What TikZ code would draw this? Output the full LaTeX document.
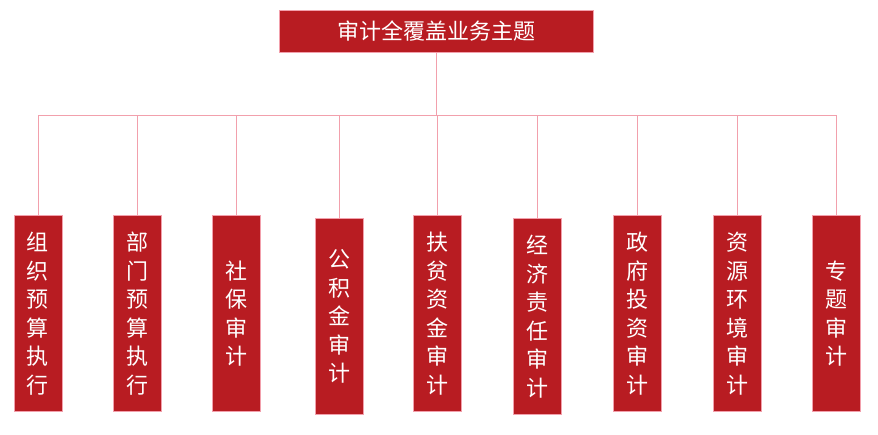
\documentclass[tikz,border=0pt]{standalone}
\usepackage{fontspec}
\newfontfamily\cjk{Noto Sans CJK SC}
\definecolor{boxred}{HTML}{B81C22}
\definecolor{linepink}{HTML}{F2A0AC}
\tikzset{
  topbox/.style={fill=boxred, draw=linepink, line width=1pt, minimum width=314pt,
    minimum height=42pt, text=white, font=\cjk\fontsize{22}{24}\selectfont},
  subbox/.style={fill=boxred, draw=linepink, line width=1pt, minimum width=48pt,
    minimum height=196pt, anchor=north},
  subtext/.style={text=white, anchor=center, align=center,
    font=\cjk\fontsize{22}{28.5}\selectfont},
  link/.style={linepink, line width=0.8pt},
}
\begin{document}
\begin{tikzpicture}[x=1pt, y=-1pt]
  \useasboundingbox (0,0) rectangle (878,434);
  %--- Top box ---
  \node[topbox] (root) at (436,31) {审计全覆盖业务主题};
  \coordinate (bus) at (436,115);
  \draw[link] (root.south) -- (bus);
  \draw[link] (38,115) -- (836,115);
  %--- Sub boxes ---
  \foreach \name/\cx/\top/\txt in {
      a/38/215/{组\\织\\预\\算\\执\\行},
      b/137/215/{部\\门\\预\\算\\执\\行},
      c/236/215/{社\\保\\审\\计},
      d/339/218/{公\\积\\金\\审\\计},
      e/437/215/{扶\\贫\\资\\金\\审\\计},
      f/537/218/{经\\济\\责\\任\\审\\计},
      g/637/215/{政\\府\\投\\资\\审\\计},
      h/737/215/{资\\源\\环\\境\\审\\计},
      i/836/215/{专\\题\\审\\计}} {
    \node[subbox] (\name) at (\cx,\top) {};
    \node[subtext] (\name t) at (\name.center) {\txt};
    \draw[link] (\cx,115) -- (\name.north);
  }
\end{tikzpicture}
\end{document}
